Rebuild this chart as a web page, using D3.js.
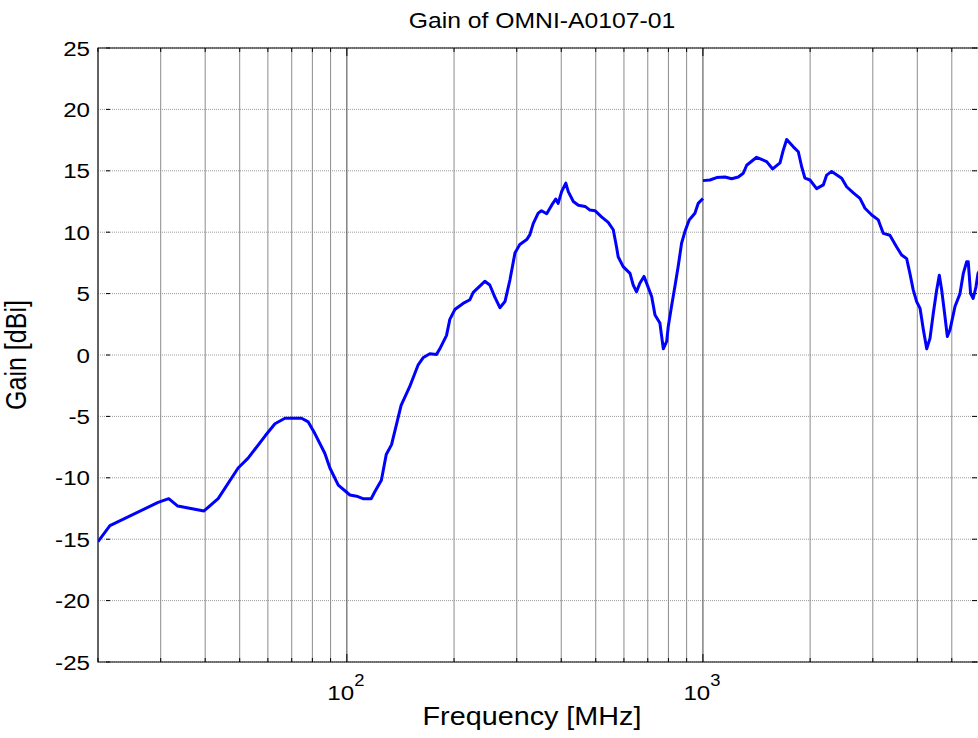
<!DOCTYPE html>
<html>
<head>
<meta charset="utf-8">
<script src="https://cdn.jsdelivr.net/npm/d3@7"></script>
<style>
  body { margin: 0; background: #fff; }
  text { font-family: "Liberation Sans", Arial, sans-serif; fill: #000; }
</style>
</head>
<body>
<svg width="978" height="738"></svg>
<script>
'use strict'

// gain curve below 1 GHz (MHz, dBi)
var freqLow = [20, 21.6, 29.5, 31.6, 33.5, 39.7, 43.5, 49.5, 52.8, 58.9, 62.8, 67, 74.6, 77.9, 81.3, 86.7,
  89.6, 94.6, 102, 106.5, 111, 117, 120, 125, 129, 133.5, 142, 150, 158.6, 164, 171, 178.6, 182.4, 190.5,
  194.6, 201, 212, 221.6, 226.4, 244, 252, 260, 269, 278, 287, 296.5, 306, 320, 326.6, 333.7, 344.6, 352,
  364, 376, 386, 392, 401, 412, 418.6, 432.5, 446.7, 466.6, 481.6, 497.5, 519, 542, 560, 572, 578, 597,
  624, 637, 651, 665, 683, 703, 718, 733.5, 757, 774, 791, 799, 816, 834, 852, 871, 890, 915, 949.5, 970, 1000];
var gainLow = [-15.2, -13.9, -12.0, -11.7, -12.3, -12.7, -11.7, -9.2, -8.4, -6.6, -5.6, -5.15, -5.15, -5.45, -6.4, -8.0,
  -9.2, -10.6, -11.4, -11.5, -11.7, -11.7, -11.1, -10.2, -8.1, -7.3, -4.1, -2.6, -0.8, -0.2, 0.1, 0.05, 0.5, 1.6,
  2.9, 3.7, 4.2, 4.5, 5.1, 6.0, 5.7, 4.75, 3.85, 4.35, 6.1, 8.3, 9.0, 9.4, 9.8, 10.7, 11.55, 11.75,
  11.5, 12.2, 12.7, 12.35, 13.3, 14.0, 13.3, 12.5, 12.2, 12.1, 11.8, 11.75, 11.25, 10.8, 10.2, 8.8, 8.0, 7.2,
  6.65, 5.7, 5.15, 5.85, 6.4, 5.45, 4.75, 3.25, 2.6, 0.5, 1.1, 2.3, 3.95, 5.55, 7.2, 9.1, 10.05, 11.0, 11.55, 12.35, 12.75];

// gain curve from 1 GHz up
var freqHigh = [1000, 1046, 1093, 1153, 1204, 1257, 1298, 1327, 1415, 1510, 1570, 1646, 1682, 1719, 1794, 1853,
  1893, 1934, 1998, 2086, 2178, 2226, 2299, 2453, 2533, 2645, 2761, 2852, 2979, 3108, 3211, 3350, 3500, 3614,
  3734, 3813, 3896, 3983, 4072, 4160, 4251, 4342, 4436, 4534, 4612, 4683, 4785, 4858, 4941, 5104, 5272, 5387,
  5505, 5560, 5646, 5741, 5846, 5924, 6000];
var gainHigh = [14.2, 14.25, 14.45, 14.5, 14.35, 14.5, 14.8, 15.45, 16.1, 15.75, 15.15, 15.65, 16.7, 17.55, 16.95, 16.55,
  15.35, 14.4, 14.25, 13.55, 13.85, 14.65, 14.95, 14.4, 13.7, 13.2, 12.75, 11.95, 11.4, 11.0, 9.9, 9.75, 8.8, 8.15,
  7.85, 6.65, 5.3, 4.35, 3.8, 2.05, 0.5, 1.35, 3.4, 5.3, 6.5, 5.3, 3.1, 1.5, 2.05, 3.95, 5.0, 6.65,
  7.6, 7.6, 5.0, 4.6, 5.55, 6.65, 6.9];

var yTicks = [-25, -20, -15, -10, -5, 0, 5, 10, 15, 20, 25];
var xDecades = [100, 1000];
var xMinor = [20, 30, 40, 50, 60, 70, 80, 90, 200, 300, 400, 500, 600, 700, 800, 900, 2000, 3000, 4000, 5000];

var title = "Gain of OMNI-A0107-01",
  xLabel = "Frequency [MHz]",
  yLabel = "Gain [dBi]";

var svg = d3.select("svg"),
  margin = { left: 98, right: 980, top: 48, bottom: 662 },
  sx = 1.15; // picture is a bit wider than tall, stretch text to match

var x = d3.scaleLog().domain([20, 6000]).range([margin.left, margin.right]),
  y = d3.scaleLinear().domain([-25, 25]).range([margin.bottom, margin.top]);

function stretchedText(tx, ty, str, size, anchor) {
  return svg.append("text")
    .attr("transform", "translate(" + tx + "," + ty + ") scale(" + sx + ",1)")
    .attr("text-anchor", anchor)
    .style("font-size", size + "px")
    .text(str);
}

// grid
svg.append("g").selectAll("line")
  .data(yTicks)
  .enter().append("line")
  .attr("x1", margin.left).attr("x2", margin.right)
  .attr("y1", function(d) { return y(d); })
  .attr("y2", function(d) { return y(d); })
  .attr("stroke", "#9a9a9a")
  .attr("stroke-dasharray", "1,1");

svg.append("g").selectAll("line")
  .data(xMinor)
  .enter().append("line")
  .attr("x1", function(d) { return x(d); })
  .attr("x2", function(d) { return x(d); })
  .attr("y1", margin.top).attr("y2", margin.bottom)
  .attr("stroke", "#8c8c8c");

svg.append("g").selectAll("line")
  .data(xDecades)
  .enter().append("line")
  .attr("x1", function(d) { return x(d); })
  .attr("x2", function(d) { return x(d); })
  .attr("y1", margin.top).attr("y2", margin.bottom)
  .attr("stroke", "#444");

// tick marks
var ticks = svg.append("g").attr("stroke", "#000");
xMinor.concat(xDecades).forEach(function(d) {
  var len = xDecades.indexOf(d) >= 0 ? 8 : 4;
  ticks.append("line").attr("x1", x(d)).attr("x2", x(d)).attr("y1", margin.top).attr("y2", margin.top + len);
  ticks.append("line").attr("x1", x(d)).attr("x2", x(d)).attr("y1", margin.bottom).attr("y2", margin.bottom - len);
});
yTicks.forEach(function(d) {
  ticks.append("line").attr("x1", margin.left + 8).attr("x2", margin.left + 12).attr("y1", y(d)).attr("y2", y(d));
  ticks.append("line").attr("x1", margin.right - 8).attr("x2", margin.right - 3).attr("y1", y(d)).attr("y2", y(d));
});

// axes box
svg.append("rect")
  .attr("x", margin.left).attr("y", margin.top)
  .attr("width", margin.right - margin.left).attr("height", margin.bottom - margin.top)
  .attr("fill", "none")
  .attr("stroke", "#000");

// curve
svg.append("defs").append("clipPath")
  .attr("id", "clip")
  .append("rect")
  .attr("x", margin.left).attr("y", margin.top)
  .attr("width", margin.right - margin.left).attr("height", margin.bottom - margin.top);

var line = d3.line()
  .x(function(d) { return x(d[0]); })
  .y(function(d) { return y(d[1]); });

[d3.zip(freqLow, gainLow), d3.zip(freqHigh, gainHigh)].forEach(function(seg) {
  svg.append("path")
    .datum(seg)
    .attr("clip-path", "url(#clip)")
    .attr("d", line)
    .attr("fill", "none")
    .attr("stroke", "#0000ff")
    .attr("stroke-width", 3)
    .attr("stroke-linejoin", "round");
});

// tick labels
yTicks.forEach(function(d) {
  stretchedText(margin.left - 8, y(d) + 7.5, String(d), 21, "end");
});
xDecades.forEach(function(d) {
  var t = stretchedText(x(d) - 1, 700, "", 21, "middle");
  t.append("tspan").text("10");
  t.append("tspan").attr("dy", -14).style("font-size", "16px").text(Math.round(Math.log10(d)));
});

// titles
stretchedText(542, 28, title, 21.5, "middle");
stretchedText(532, 725, xLabel, 25, "middle");
svg.append("text")
  .attr("transform", "translate(26,355) scale(" + sx + ",1) rotate(-90)")
  .attr("text-anchor", "middle")
  .style("font-size", "25px")
  .text(yLabel);
</script>
</body>
</html>
